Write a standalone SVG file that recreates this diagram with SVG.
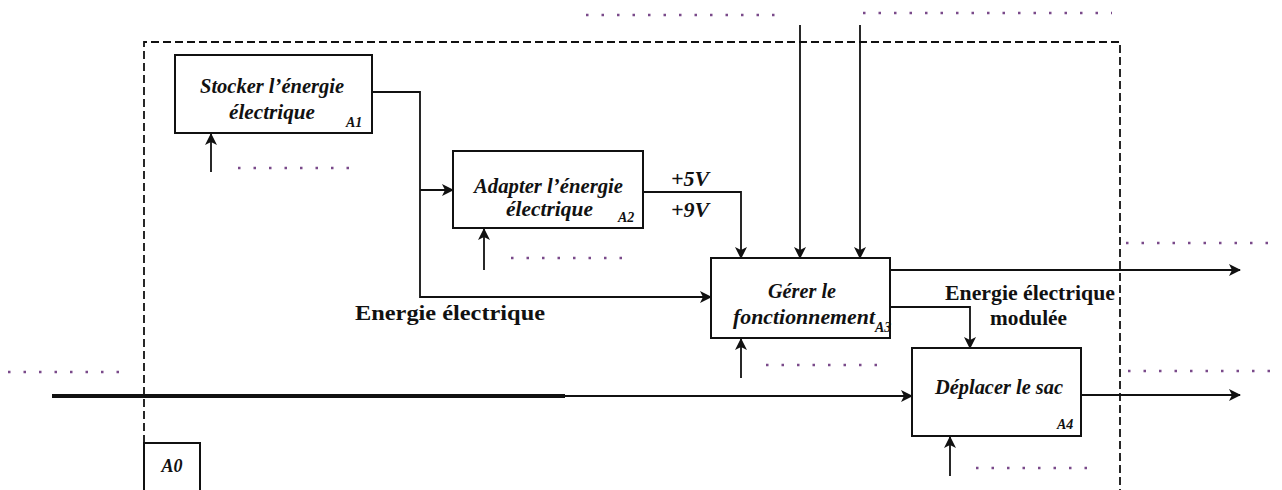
<svg xmlns="http://www.w3.org/2000/svg" width="1282" height="490" viewBox="0 0 1282 490">
<style>
.box{fill:#fff;stroke:#111;stroke-width:2}
.ln{fill:none;stroke:#111;stroke-width:1.8}
.lb{font-family:"Liberation Serif","DejaVu Serif",serif;font-weight:bold;font-style:italic;fill:#111}
.t{font-size:21px}
.id{font-size:14px}
.lab{font-family:"Liberation Serif","DejaVu Serif",serif;font-weight:bold;font-size:21px;fill:#111}
.dots{stroke:#7a4a8a;stroke-width:2.5;stroke-dasharray:2.5 13;fill:none}
</style>
<defs>
<marker id="ar" viewBox="0 0 12 12" refX="11" refY="6" markerWidth="12" markerHeight="12" markerUnits="userSpaceOnUse" orient="auto">
<path d="M0,0 L12,6 L0,12 L3,6 Z" fill="#111"/>
</marker>
</defs>
<rect width="1282" height="490" fill="#fff"/>
<g id="frame">
<path d="M144,443 L144,42 L1120,42 L1120,490" fill="none" stroke="#111" stroke-width="1.8" stroke-dasharray="8 4"/>
</g>
<g id="A0">
<path d="M144,490 L144,443 L200,443 L200,490" class="box"/>
<text x="172" y="472" class="lb" font-size="18" text-anchor="middle">A0</text>
</g>
<g id="connectors">
<path class="ln" d="M372,92 H420 V297 H711" marker-end="url(#ar)"/>
<path class="ln" d="M420,190 H453" marker-end="url(#ar)"/>
<path class="ln" d="M643,192 H741 V258" marker-end="url(#ar)"/>
<path class="ln" d="M800,25 V258" marker-end="url(#ar)"/>
<path class="ln" d="M860,25 V258" marker-end="url(#ar)"/>
<path class="ln" d="M890,270 H1240" marker-end="url(#ar)" stroke-width="2.2"/>
<path class="ln" d="M890,307 H970 V348" marker-end="url(#ar)"/>
<path d="M52,396 H565" stroke="#111" stroke-width="4" fill="none"/>
<path class="ln" d="M565,396 H912" marker-end="url(#ar)"/>
<path class="ln" d="M1081,395 H1240" marker-end="url(#ar)" stroke-width="2.2"/>
<path class="ln" d="M211,172 V134" marker-end="url(#ar)"/>
<path class="ln" d="M484,270 V229" marker-end="url(#ar)"/>
<path class="ln" d="M741,378 V339" marker-end="url(#ar)"/>
<path class="ln" d="M950,476 V437" marker-end="url(#ar)"/>
<path class="dots" d="M238,168 H362"/>
<path class="dots" d="M511,258 H632"/>
<path class="dots" d="M766,365 H887"/>
<path class="dots" d="M976,468 H1090"/>
<path class="dots" d="M586,15 H785"/>
<path class="dots" d="M863,13 H1112"/>
<path class="dots" d="M1126,243 H1272"/>
<path class="dots" d="M1128,371 H1272"/>
<path class="dots" d="M8,372 H128"/>
<text x="671" y="186" class="lb" font-size="22">+5V</text>
<text x="671" y="217" class="lb" font-size="22">+9V</text>
<text x="355" y="320" class="lab" textLength="190" lengthAdjust="spacingAndGlyphs">Energie électrique</text>
<text x="945" y="300" class="lab" textLength="170" lengthAdjust="spacingAndGlyphs">Energie  électrique</text>
<text x="990" y="325" class="lab" textLength="77" lengthAdjust="spacingAndGlyphs">modulée</text>
</g>
<g id="A1">
<rect x="175" y="55" width="197" height="78" class="box"/>
<text x="200" y="93" class="lb t" textLength="144" lengthAdjust="spacingAndGlyphs">Stocker l’énergie</text>
<text x="229" y="119" class="lb t" textLength="86" lengthAdjust="spacingAndGlyphs">électrique</text>
<text x="346" y="127" class="lb id">A1</text>
</g>
<g id="A2">
<rect x="453" y="151" width="190" height="77" class="box"/>
<text x="474" y="193" class="lb t" textLength="149" lengthAdjust="spacingAndGlyphs">Adapter l’énergie</text>
<text x="506" y="216" class="lb t" textLength="87" lengthAdjust="spacingAndGlyphs">électrique</text>
<text x="618" y="222" class="lb id">A2</text>
</g>
<g id="A3">
<rect x="711" y="258" width="179" height="80" class="box"/>
<text x="768" y="298" class="lb t" textLength="68" lengthAdjust="spacingAndGlyphs">Gérer le</text>
<text x="733" y="324" class="lb t"><tspan textLength="142" lengthAdjust="spacingAndGlyphs">fonctionnement</tspan><tspan class="id" dy="8">A3</tspan></text>
</g>
<g id="A4">
<rect x="912" y="348" width="169" height="88" class="box"/>
<text x="935" y="394" class="lb t" textLength="128" lengthAdjust="spacingAndGlyphs">Déplacer le sac</text>
<text x="1057" y="429" class="lb id">A4</text>
</g>
</svg>
